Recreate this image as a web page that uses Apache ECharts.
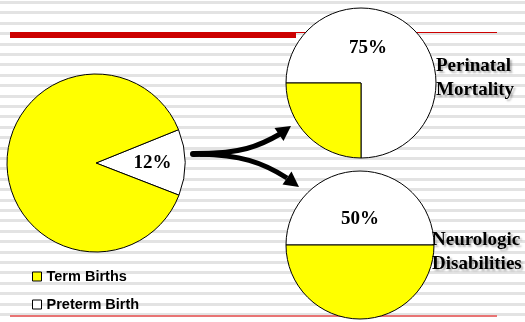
<!DOCTYPE html>
<html>
<head>
<meta charset="utf-8">
<script src="https://cdn.jsdelivr.net/npm/echarts@6/dist/echarts.min.js"></script>
<style>
  html, body { margin: 0; padding: 0; }
  /* striped slide background */
  body {
    background: repeating-linear-gradient(to bottom,
      #ffffff 0px, #ffffff 1px, #e3e3e3 1px, #e3e3e3 4px, #ffffff 4px, #ffffff 10.4px);
  }
  #main { width: 525px; height: 322px; }
</style>
</head>
<body>
<div id="main"></div>
<script>
// data
var birthCats = ['Term Births', 'Preterm Birth'];
var birthVals = [88, 12];
var mortalityCats = ['Perinatal Mortality', 'Other'];
var mortalityVals = [75, 25];
var disabilityCats = ['Neurologic Disabilities', 'None'];
var disabilityVals = [50, 50];

var YELLOW = '#ffff00';
var WHITE = '#ffffff';

var myChart = echarts.init(document.getElementById('main'));

var pctLabel = {
    show: true,
    fontFamily: 'Liberation Serif',
    fontWeight: 'bold',
    fontSize: 19,
    color: '#000'
};
var noLabel = { show: false };

function baseItemStyle(){
    return { borderColor: '#000', borderWidth: 1 };
}

var titleStyle = {
    fontFamily: 'Liberation Serif',
    fontWeight: 'bold',
    fontSize: 19,
    fill: '#000',
    textShadowColor: 'rgba(0,0,0,0.3)',
    textShadowOffsetX: 2,
    textShadowOffsetY: 2,
    textShadowBlur: 2
};

myChart.setOption({
    backgroundColor: 'transparent',
    animation: false,
    legend: {
        orient: 'vertical',
        left: 32,
        top: 269,
        padding: 0,
        itemWidth: 9,
        itemHeight: 9,
        itemGap: 13,
        icon: 'rect',
        selectedMode: false,
        data: [birthCats[0], birthCats[1]],
        itemStyle: { borderColor: '#000', borderWidth: 1 },
        textStyle: {
            fontFamily: 'Liberation Sans',
            fontWeight: 'bold',
            fontSize: 14.5,
            lineHeight: 14,
            color: '#000'
        }
    },
    graphic: [
        // red rules
        { type: 'rect', z: 0, shape: { x: 10, y: 32, width: 286, height: 6 }, style: { fill: '#cc0000' } },
        { type: 'rect', z: 0, shape: { x: 10, y: 32, width: 487, height: 1 }, style: { fill: '#cc0000' } },
        { type: 'rect', z: 0, shape: { x: 10, y: 315, width: 487, height: 2 }, style: { fill: '#e87474' } },
        // arrows
        { type: 'line', z: 10, shape: { x1: 193, y1: 154, x2: 226, y2: 153.5 }, style: { stroke: '#000', lineWidth: 6, lineCap: 'round' } },
        { type: 'bezierCurve', z: 10, shape: { x1: 200, y1: 154, cpx1: 240, cpy1: 153, cpx2: 258, cpy2: 147, x2: 280, y2: 134 }, style: { stroke: '#000', lineWidth: 5, fill: 'none' } },
        { type: 'bezierCurve', z: 10, shape: { x1: 200, y1: 154, cpx1: 240, cpy1: 155, cpx2: 262, cpy2: 162, x2: 287, y2: 178 }, style: { stroke: '#000', lineWidth: 5, fill: 'none' } },
        { type: 'polygon', z: 10, shape: { points: [[291, 126], [283.5, 141], [274.5, 128]] }, style: { fill: '#000' } },
        { type: 'polygon', z: 10, shape: { points: [[299, 187], [282.5, 184.5], [291.5, 171.5]] }, style: { fill: '#000' } },
        // outcome titles
        { type: 'text', z: 10, left: 436, top: 54, style: Object.assign({ text: 'Perinatal\nMortality', lineHeight: 24 }, titleStyle) },
        { type: 'text', z: 10, left: 432, top: 228, style: Object.assign({ text: 'Neurologic\nDisabilities', lineHeight: 24 }, titleStyle) }
    ],
    series: [
        {
            type: 'pie',
            name: 'Births',
            center: [96, 163],
            radius: 89,
            startAngle: 22,
            clockwise: true,
            silent: true,
            labelLine: { show: false },
            emphasis: { disabled: true },
            data: [
                { name: birthCats[1], value: birthVals[1], itemStyle: Object.assign({ color: WHITE }, baseItemStyle()),
                  label: Object.assign({}, pctLabel, { formatter: '{c}%', position: 'inside', padding: [0, 0, 0, 18] }) },
                { name: birthCats[0], value: birthVals[0], itemStyle: Object.assign({ color: YELLOW }, baseItemStyle()),
                  label: noLabel }
            ]
        },
        {
            type: 'pie',
            name: 'Mortality',
            center: [361, 83],
            radius: 75,
            startAngle: 180,
            clockwise: true,
            silent: true,
            labelLine: { show: false },
            emphasis: { disabled: true },
            data: [
                { name: mortalityCats[0], value: mortalityVals[0], itemStyle: Object.assign({ color: WHITE }, baseItemStyle()),
                  label: Object.assign({}, pctLabel, { formatter: '{c}%\n ', lineHeight: 70, position: 'center', padding: [0, 0, 0, 14] }) },
                { name: mortalityCats[1], value: mortalityVals[1], itemStyle: Object.assign({ color: YELLOW }, baseItemStyle()),
                  label: noLabel }
            ]
        },
        {
            type: 'pie',
            name: 'Disability',
            center: [360, 245],
            radius: 74,
            startAngle: 180,
            clockwise: true,
            silent: true,
            labelLine: { show: false },
            emphasis: { disabled: true },
            data: [
                { name: disabilityCats[0], value: disabilityVals[0], itemStyle: Object.assign({ color: WHITE }, baseItemStyle()),
                  label: Object.assign({}, pctLabel, { formatter: '{c}%\n ', lineHeight: 52, position: 'center' }) },
                { name: disabilityCats[1], value: disabilityVals[1], itemStyle: Object.assign({ color: YELLOW }, baseItemStyle()),
                  label: noLabel }
            ]
        }
    ]
});
</script>
</body>
</html>
